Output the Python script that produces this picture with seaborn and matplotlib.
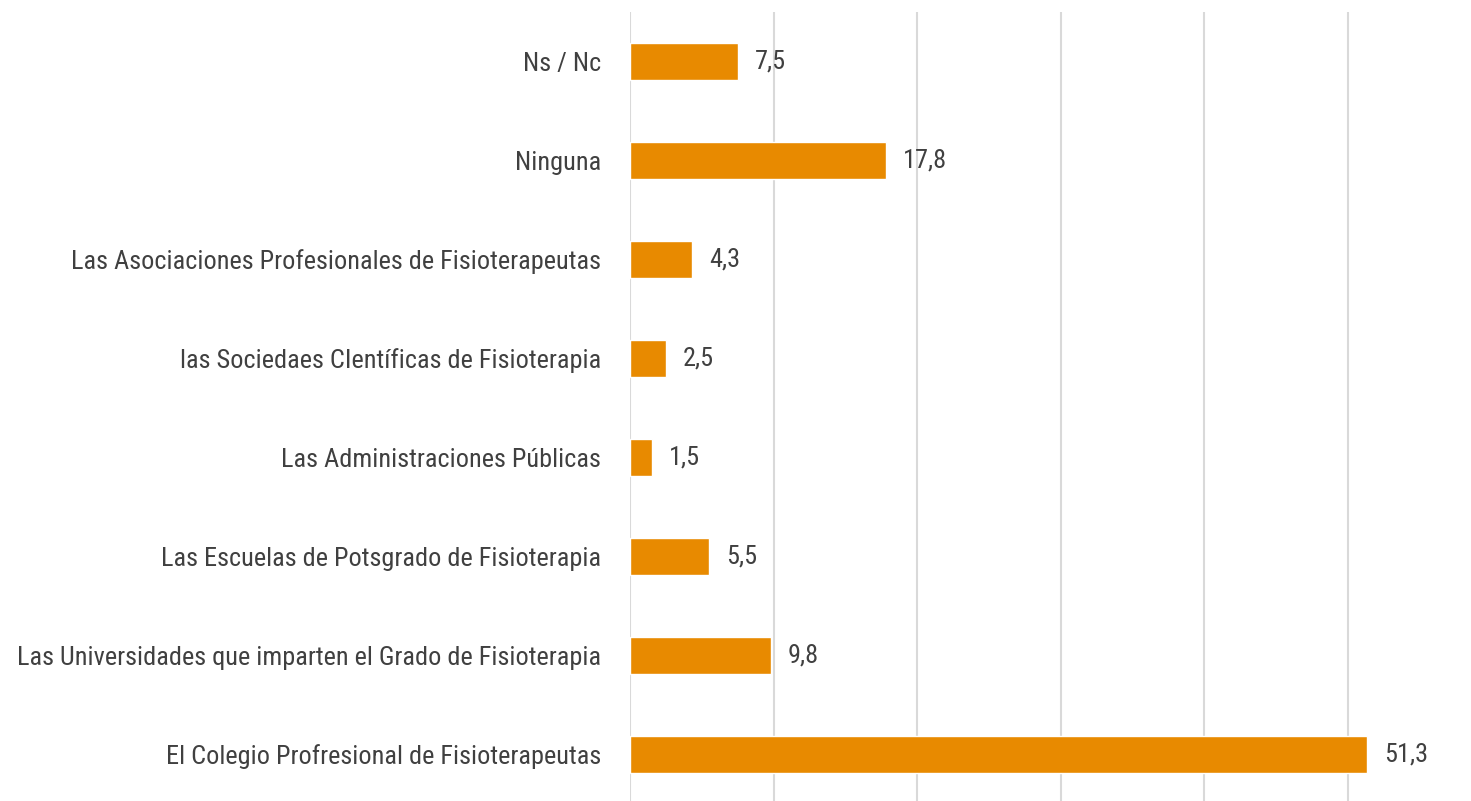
import matplotlib
matplotlib.use("Agg")
import matplotlib.pyplot as plt
import seaborn as sns
import pandas as pd
from matplotlib import font_manager

categories = [
    "Ns / Nc",
    "Ninguna",
    "Las Asociaciones Profesionales de Fisioterapeutas",
    "las Sociedaes CIentíficas de Fisioterapia",
    "Las Administraciones Públicas",
    "Las Escuelas de Potsgrado de Fisioterapia",
    "Las Universidades que imparten el Grado de Fisioterapia",
    "El Colegio Profresional de Fisioterapeutas",
]
values = [7.5, 17.8, 4.3, 2.5, 1.5, 5.5, 9.8, 51.3]
x_ticks = [0, 10, 20, 30, 40, 50]

sns.set_theme(style="white")
names = {f.name for f in font_manager.fontManager.ttflist}
condensed = [f for f in ["Roboto Condensed", "Liberation Sans Narrow", "DejaVu Sans Condensed"] if f in names]
if condensed:
    fam = condensed[:1]
    fs = 18.9
else:
    fam = ["Roboto"] if "Roboto" in names else ["Liberation Sans"]
    fs = 15.5
plt.rcParams["font.family"] = fam + ["DejaVu Sans"]

df = pd.DataFrame({"cat": categories, "val": values})
fig = plt.figure(figsize=(14.71, 8.01), dpi=100)
ax = fig.add_axes([630 / 1471, -3 / 801, (1440 - 630) / 1471, (789 + 3) / 801])
sns.barplot(data=df, x="val", y="cat", color="#E88A00", saturation=1, width=0.37, ax=ax, zorder=3)
ax.set_xlim(0, 56.4)
ax.set_ylim(7.5, -0.5)
ax.set_xticks(x_ticks)
ax.set_xticklabels([])
ax.tick_params(axis="x", length=0)
ax.tick_params(axis="y", length=0, pad=21, labelsize=fs, labelcolor="#404040")
ax.grid(axis="x", color="#D9D9D9", linewidth=1.5, zorder=0)
for s in ax.spines.values():
    s.set_visible(False)
ax.set_xlabel("")
ax.set_ylabel("")
for i, v in enumerate(values):
    ax.text(v + 1.2, i, f"{v:.1f}".replace(".", ","), va="center", ha="left",
            fontsize=fs, color="#404040")
fig.savefig("out.png", dpi=100)
